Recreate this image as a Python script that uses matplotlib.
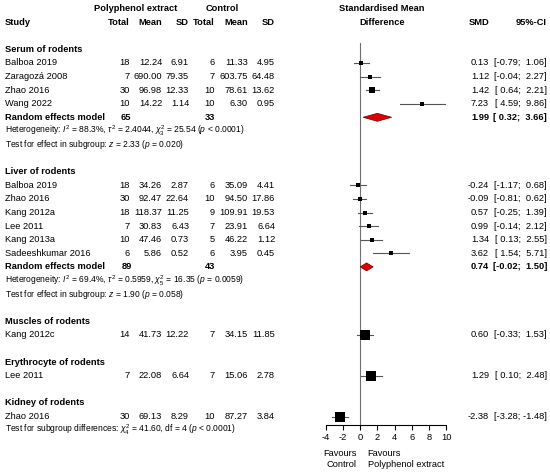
import matplotlib
matplotlib.use("Agg")
from matplotlib import pyplot as plt
from matplotlib.patches import Polygon

plt.rcParams['font.family'] = ['Liberation Sans', 'DejaVu Sans']
plt.rcParams['mathtext.fontset'] = 'custom'
plt.rcParams['mathtext.rm'] = 'Liberation Sans'
plt.rcParams['mathtext.it'] = 'Liberation Sans:italic'
plt.rcParams['mathtext.bf'] = 'Liberation Sans:bold'
plt.rcParams['axes.unicode_minus'] = False

# ---- data ----
groups = ["Serum of rodents", "Liver of rodents", "Muscles of rodents",
          "Erythrocyte of rodents", "Kidney of rodents"]
study = ["Balboa 2019", "Zaragozá 2008", "Zhao 2016", "Wang 2022",
         "Balboa 2019", "Zhao 2016", "Kang 2012a", "Lee 2011", "Kang 2013a", "Sadeeshkumar 2016",
         "Kang 2012c", "Lee 2011", "Zhao 2016"]
group_of = [0, 0, 0, 0, 1, 1, 1, 1, 1, 1, 2, 3, 4]
n_e = [18, 7, 30, 10, 18, 30, 18, 7, 10, 6, 14, 7, 30]
mean_e = [12.24, 690.00, 96.98, 14.22, 34.26, 92.47, 118.37, 30.83, 47.46, 5.86, 41.73, 22.08, 69.13]
sd_e = [6.91, 79.35, 12.33, 1.14, 2.87, 22.64, 11.25, 6.43, 0.73, 0.52, 12.22, 6.64, 8.29]
n_c = [6, 7, 10, 10, 6, 10, 9, 7, 5, 6, 7, 7, 10]
mean_c = [11.33, 603.75, 78.61, 6.30, 35.09, 94.50, 109.91, 23.91, 46.22, 3.95, 34.15, 15.06, 87.27]
sd_c = [4.95, 64.48, 13.62, 0.95, 4.41, 17.86, 19.53, 6.64, 1.12, 0.45, 11.85, 2.78, 3.84]
smd = [0.13, 1.12, 1.42, 7.23, -0.24, -0.09, 0.57, 0.99, 1.34, 3.62, 0.60, 1.29, -2.38]
ci_lo = [-0.79, -0.04, 0.64, 4.59, -1.17, -0.81, -0.25, -0.14, 0.13, 1.54, -0.33, 0.10, -3.28]
ci_hi = [1.06, 2.27, 2.21, 9.86, 0.68, 0.62, 1.39, 2.12, 2.55, 5.71, 1.53, 2.48, -1.48]
# approximate within-subgroup weights (%), only used for square size
weight = [26, 25, 28, 21, 19, 20, 18, 17, 15, 11, 100, 100, 100]

# random effects summaries (only subgroups with more than one study)
sum_group = [0, 1]
sum_ne = [65, 89]
sum_nc = [33, 43]
sum_smd = [1.99, 0.74]
sum_lo = [0.32, -0.02]
sum_hi = [3.66, 1.50]
het_text = [r"Heterogeneity: $I^2$ = 88.3%, $\tau^2$ = 2.4044, $\chi^2_3$ = 25.54 ($p$ < 0.0001)",
            r"Heterogeneity: $I^2$ = 69.4%, $\tau^2$ = 0.5959, $\chi^2_5$ = 16.35 ($p$ = 0.0059)"]
test_text = [r"Test for effect in subgroup: $z$ = 2.33 ($p$ = 0.020)",
             r"Test for effect in subgroup: $z$ = 1.90 ($p$ = 0.058)"]
overall_text = r"Test for subgroup differences: $\chi^2_4$ = 41.60, df = 4 ($p$ < 0.0001)"

xticks = [-4, -2, 0, 2, 4, 6, 8, 10]

# ---- layout (pixel rows) ----
W, H = 550, 472
y0, dy = 8.5, 13.6
fs = 6.7
fs_small = 6.15

col_study = 5
col_ne, col_me, col_se = 129.5, 162, 189
col_nc, col_mc, col_sc = 215, 248, 275
col_smd, col_ci = 489, 547
ax_left, ax_right, ax_bottom = 326, 446, 425

fig = plt.figure(figsize=(W / 100, H / 100), dpi=100)
tx = fig.add_axes([0, 0, 1, 1])
tx.set_xlim(0, W)
tx.set_ylim(H, 0)
tx.axis("off")

fa = fig.add_axes([ax_left / W, (H - ax_bottom) / H, (ax_right - ax_left) / W, ax_bottom / H])
fa.set_xlim(xticks[0], xticks[-1])
fa.set_ylim(ax_bottom, 0)
fa.patch.set_alpha(0)
for s in ["top", "left", "right"]:
    fa.spines[s].set_visible(False)
fa.spines["bottom"].set_linewidth(0.8)
fa.set_yticks([])
fa.set_xticks(xticks)
fa.tick_params(axis="x", length=3.5, width=0.8, pad=2.5, labelsize=fs)


def row(k):
    return y0 + dy * k


def txt(x, y, s, ha="right", bold=False, size=fs):
    tx.text(x, y, s, ha=ha, va="center", fontsize=size,
            fontweight="bold" if bold else "normal")


# headers
txt(135.5, row(0), "Polyphenol extract", ha="center", bold=True)
txt(222, row(0), "Control", ha="center", bold=True)
txt(col_study, row(1), "Study", ha="left", bold=True)
for x, s in [(col_ne, "Total"), (col_me, "Mean"), (col_se, "SD"),
             (col_nc, "Total"), (col_mc, "Mean"), (col_sc, "SD"),
             (col_smd, "SMD"), (col_ci, "95%-CI")]:
    txt(x, row(1), s, bold=True)
txt(382, row(0), "Standardised Mean", ha="center", bold=True)
txt(382, row(1), "Difference", ha="center", bold=True)

fa.plot([0, 0], [row(2.5), ax_bottom], color="#707070", lw=0.8, zorder=1)

k = 3
for g, gname in enumerate(groups):
    txt(col_study, row(k), gname, ha="left", bold=True)
    k += 1
    for i in range(len(study)):
        if group_of[i] != g:
            continue
        y = row(k)
        txt(col_study, y, study[i], ha="left")
        txt(col_ne, y, "%d" % n_e[i])
        txt(col_me, y, "%.2f" % mean_e[i])
        txt(col_se, y, "%.2f" % sd_e[i])
        txt(col_nc, y, "%d" % n_c[i])
        txt(col_mc, y, "%.2f" % mean_c[i])
        txt(col_sc, y, "%.2f" % sd_c[i])
        txt(col_smd, y, "%.2f" % smd[i])
        txt(col_ci, y, "[%5.2f; %5.2f]" % (ci_lo[i], ci_hi[i]))
        fa.plot([ci_lo[i], ci_hi[i]], [y, y], color="#555555", lw=0.8, zorder=2, clip_on=False)
        size_px = 9.5 * (weight[i] / 100) ** 0.5
        fa.plot(smd[i], y, marker="s", color="black", ms=size_px * 0.72, mew=0,
                zorder=3, clip_on=False)
        k += 1
    if g in sum_group:
        j = sum_group.index(g)
        y = row(k)
        txt(col_study, y, "Random effects model", ha="left", bold=True)
        txt(col_ne + 2, y, "%d" % sum_ne[j], bold=True)
        txt(col_nc, y, "%d" % sum_nc[j], bold=True)
        txt(col_smd, y, "%.2f" % sum_smd[j], bold=True)
        txt(col_ci, y, "[%5.2f; %5.2f]" % (sum_lo[j], sum_hi[j]), bold=True)
        hh = 4.0
        diamond = Polygon([(sum_lo[j], y), (sum_smd[j], y - hh), (sum_hi[j], y), (sum_smd[j], y + hh)],
                          closed=True, facecolor="#E00000", edgecolor="#700000", lw=0.5, zorder=4)
        fa.add_patch(diamond)
        txt(col_study, row(k + 1), het_text[j], ha="left", size=fs_small)
        txt(col_study, row(k + 2), test_text[j], ha="left", size=fs_small)
        k += 3
    if g < len(groups) - 1:
        k += 1
txt(col_study, row(k), overall_text, ha="left", size=fs_small)

# favours labels
fa.text(-0.43, 459, "Favours\nControl", ha="right", va="center", fontsize=fs,
        linespacing=1.25, clip_on=False)
fa.text(0.86, 459, "Favours\nPolyphenol extract", ha="left", va="center", fontsize=fs,
        linespacing=1.25, clip_on=False)

fig.savefig("out.png", dpi=100)
